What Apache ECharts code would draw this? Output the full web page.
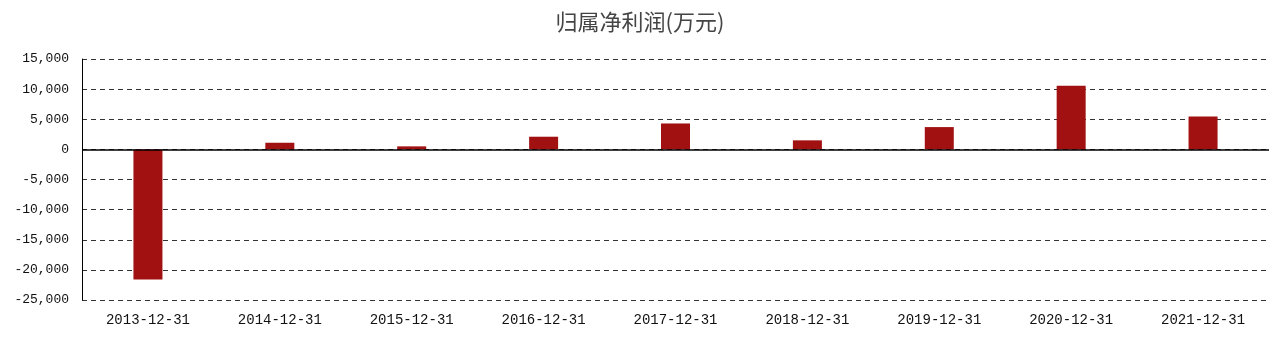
<!DOCTYPE html>
<html><head><meta charset="utf-8">
<script src="https://cdn.jsdelivr.net/npm/echarts@6/dist/echarts.min.js"></script>
<style>html,body{margin:0;padding:0;background:#fff}#c{width:1280px;height:339px}</style>
</head><body><div id="c"></div>
<script>
var categories = ['2013-12-31','2014-12-31','2015-12-31','2016-12-31','2017-12-31','2018-12-31','2019-12-31','2020-12-31','2021-12-31'];
var profit = [-21600, 1100, 500, 2100, 4300, 1500, 3700, 10550, 5450];
var yTicks = [-25000, -20000, -15000, -10000, -5000, 0, 5000, 10000, 15000];

var chart = echarts.init(document.getElementById('c'));
chart.setOption({
  animation: false,
  title: {
    text: '归属净利润(万元)', left: 'center', top: 6,
    textStyle: { fontSize: 22, fontWeight: 'normal', color: '#444', fontFamily: 'Noto Sans CJK SC' }
  },
  grid: { left: 82, right: 11, top: 59, bottom: 39 },
  xAxis: {
    type: 'category', data: categories,
    axisLine: { show: false, onZero: false },
    axisTick: { show: false },
    axisLabel: { color: '#111', fontSize: 14, margin: 13, fontFamily: 'Liberation Mono, monospace' }
  },
  yAxis: {
    type: 'value', min: yTicks[0], max: yTicks[yTicks.length - 1], interval: 5000,
    axisLine: { show: true, lineStyle: { color: '#000', width: 1 } },
    axisTick: { show: false },
    axisLabel: {
      color: '#111', fontSize: 13, margin: 13, fontFamily: 'Liberation Mono, monospace',
      formatter: function (v) { return v.toLocaleString('en-US'); }
    },
    splitLine: { show: true, lineStyle: { color: '#333', type: [5, 4], width: 1 } }
  },
  series: [{
    type: 'bar', data: profit, barWidth: 29,
    itemStyle: { color: '#a11111' },
    markLine: {
      silent: true, symbol: 'none', label: { show: false },
      lineStyle: { color: '#000', type: 'solid', width: 1.5 },
      data: [{ yAxis: 0 }]
    }
  }]
});
</script></body></html>
